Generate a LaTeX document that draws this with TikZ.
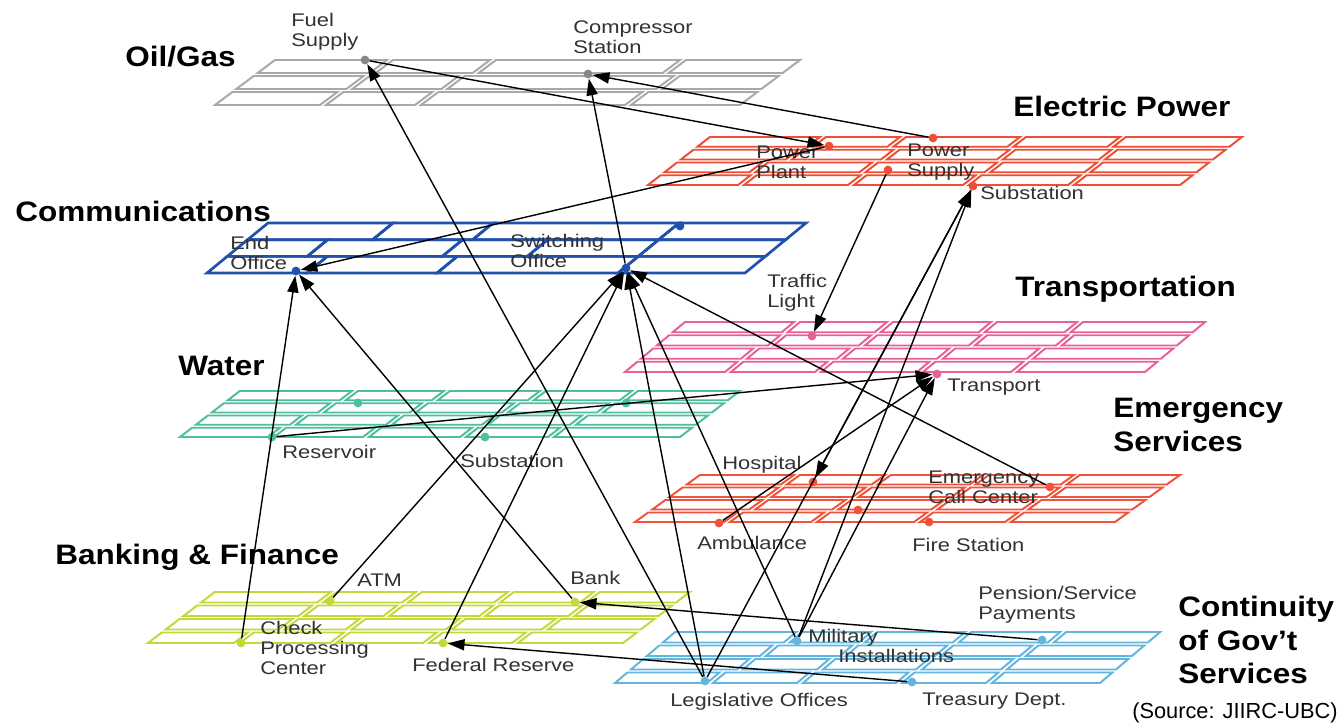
\documentclass[tikz,border=0pt]{standalone}
\usepackage{fontspec}
\setmainfont{Liberation Sans}
\newfontfamily\lblfont[FakeStretch=1.2]{Liberation Sans}
\newfontfamily\ttlfont[FakeStretch=1.12]{Liberation Sans}
\usetikzlibrary{arrows.meta}
\definecolor{gasgray}{RGB}{168,168,168}
\definecolor{pwrred}{RGB}{240,78,52}
\definecolor{comblue}{RGB}{32,82,172}
\definecolor{trpink}{RGB}{232,96,152}
\definecolor{wteal}{RGB}{78,190,158}
\definecolor{emred}{RGB}{240,82,58}
\definecolor{bkgreen}{RGB}{196,216,58}
\definecolor{govblue}{RGB}{98,182,222}
\definecolor{lbltext}{RGB}{50,50,50}
\tikzset{
  dot/.style={circle, fill=#1, inner sep=0pt, minimum size=0.22cm},
  lbl/.style={font=\lblfont\fontsize{13}{14.2}\selectfont, text=lbltext, inner sep=0pt, align=left, anchor=west},
  ttl/.style={font=\ttlfont\fontsize{20}{23.8}\selectfont\bfseries, inner sep=0pt, align=left, anchor=west},
  src/.style={font=\fontsize{15.5}{17}\selectfont, inner sep=0pt, anchor=east},
  link/.style={line width=1pt, -{Triangle[length=0.42cm,width=0.28cm]}},
}
\newcommand\gridrow[2]{%
  \foreach \c [remember=\c as \p (initially -\cg)] in {#2}
    \draw (\p+\cg,-#1*\rp) rectangle (\c,-#1*\rp-\rp+\gp);}
\begin{document}
\begin{tikzpicture}[x=0.025cm, y=-0.025cm]
\useasboundingbox (0,0) rectangle (1341,726);
\fill[white] (0,0) rectangle (1341,726);

\begin{scope}[shift={(215,105)}, xslant=1.333, gasgray, line width=1.4pt]
  \def\rp{16}\def\gp{3}\def\cg{6}
  \gridrow{0}{105,200,410,525}
  \gridrow{1}{110,205,420,525}
  \gridrow{2}{112,215,405,525}
\end{scope}
\begin{scope}[shift={(648,185)}, xslant=1.29, pwrred, line width=1.4pt]
  \def\rp{12.75}\def\gp{3}\def\cg{6}
  \gridrow{0}{90,200,315,420,532}
  \gridrow{1}{85,195,320,420,532}
  \gridrow{2}{105,200,316,418,532}
  \gridrow{3}{110,190,310,410,532}
\end{scope}
\begin{scope}[shift={(207,273)}, xslant=1.22, comblue, line width=1.9pt]
  \def\rp{16.67}\def\gp{0}\def\cg{0}
  \gridrow{0}{100,230,411,538}
  \gridrow{1}{80,215,300,411,538}
  \gridrow{2}{125,225,411,538}
\end{scope}
\begin{scope}[shift={(625,372)}, xslant=1.2, trpink, line width=1.4pt]
  \def\rp{13.25}\def\gp{3}\def\cg{6}
  \gridrow{0}{100,190,292,386,520}
  \gridrow{1}{100,196,296,386,520}
  \gridrow{2}{111,202,312,399,520}
  \gridrow{3}{109,202,306,392,520}
\end{scope}
\begin{scope}[shift={(180,437)}, xslant=1.3, wteal, line width=1.4pt]
  \def\rp{12.25}\def\gp{3}\def\cg{6}
  \gridrow{0}{88,183,280,368,500}
  \gridrow{1}{94,190,286,374,500}
  \gridrow{2}{106,198,290,385,500}
  \gridrow{3}{112,204,300,392,500}
\end{scope}
\begin{scope}[shift={(635,522)}, xslant=1.38, emred, line width=1.4pt]
  \def\rp{12.5}\def\gp{3}\def\cg{6}
  \gridrow{0}{89,176,279,370,480}
  \gridrow{1}{97,180,279,370,480}
  \gridrow{2}{96,183,282,377,480}
  \gridrow{3}{94,185,283,374,480}
\end{scope}
\begin{scope}[shift={(148,643)}, xslant=1.31, bkgreen, line width=1.4pt]
  \def\rp{13.5}\def\gp{3}\def\cg{6}
  \gridrow{0}{86,182,275,364,475}
  \gridrow{1}{113,180,280,376,475}
  \gridrow{2}{115,200,296,385,475}
  \gridrow{3}{116,201,293,379,475}
\end{scope}
\begin{scope}[shift={(615,683)}, xslant=1.18, govblue, line width=1.4pt]
  \def\rp{13.5}\def\gp{3}\def\cg{6}
  \gridrow{0}{92,182,281,371,485}
  \gridrow{1}{106,186,285,370,485}
  \gridrow{2}{113,193,288,373,485}
  \gridrow{3}{121,196,290,385,485}
\end{scope}

\node[ttl] (toil) at (125,57) {Oil/Gas};
\node[ttl] (tpower) at (1013,106) {Electric Power};
\node[ttl] (tcomm) at (15,211) {Communications};
\node[ttl] (ttrans) at (1015,289) {Transportation};
\node[ttl] (twater) at (178,366) {Water};
\node[ttl] (temerg) at (1113,425) {Emergency\\Services};
\node[ttl] (tbank) at (55,557) {Banking \& Finance};
\node[ttl] (tgov) at (1178,640) {Continuity\\of Gov’t\\Services};
\node[src] (source) at (1338,713) {(Source: JIIRC-UBC)};

\node[lbl] (lfuel) at (291,32) {Fuel\\Supply};
\node[lbl] (lcomp) at (573,37) {Compressor\\Station};
\node[lbl] (lplant) at (756,162) {Power\\Plant};
\node[lbl] (lsupply) at (907,162) {Power\\Supply};
\node[lbl] (lsubst) at (980,193) {Substation};
\node[lbl] (lend) at (230,253) {End\\Office};
\node[lbl] (lswitch) at (510,251) {Switching\\Office};
\node[lbl] (ltraffic) at (767,293) {Traffic\\Light};
\node[lbl] (ltransport) at (947,387) {Transport};
\node[lbl] (lreserv) at (282,452) {Reservoir};
\node[lbl] (lwsub) at (460,461) {Substation};
\node[lbl] (lhosp) at (722,465) {Hospital};
\node[lbl] (lcall) at (928,487) {Emergency\\Call Center};
\node[lbl] (lamb) at (697,543) {Ambulance};
\node[lbl] (lfire) at (912,545) {Fire Station};
\node[lbl] (latm) at (357,580) {ATM};
\node[lbl] (lbank) at (570,578) {Bank};
\node[lbl] (lcheck) at (260,648) {Check\\Processing\\Center};
\node[lbl] (lfed) at (412,665) {Federal Reserve};
\node[lbl] (lpension) at (978,605) {Pension/Service\\Payments};
\node[lbl] (lmil) at (808,646) {Military\\\hspace*{0.75cm}Installations};
\node[lbl] (llegis) at (670,702) {Legislative Offices};
\node[lbl] (ltreas) at (922,701) {Treasury Dept.};

\node[dot=gasgray!80!black] (fuel) at (365,60) {};
\node[dot=gasgray!80!black] (comp) at (588,74) {};
\node[dot=pwrred] (pplant) at (829,146) {};
\node[dot=pwrred] (psup1) at (933,138) {};
\node[dot=pwrred] (psup2) at (888,170) {};
\node[dot=pwrred] (subst) at (973,186) {};
\node[dot=comblue] (endoff) at (296,271) {};
\node[dot=comblue] (switch) at (626,268) {};
\node[dot=comblue] (cdot) at (680,226) {};
\node[dot=trpink] (traffic) at (812,336) {};
\node[dot=trpink] (transport) at (937,374) {};
\node[dot=wteal] (reserv) at (272,437) {};
\node[dot=wteal] (wsub) at (485,437) {};
\node[dot=wteal] (wdota) at (358,403) {};
\node[dot=wteal] (wdotb) at (626,403) {};
\node[dot=emred] (hosp) at (813,482) {};
\node[dot=emred] (callctr) at (1050,487) {};
\node[dot=emred] (edot) at (858,510) {};
\node[dot=emred] (amb) at (719,523) {};
\node[dot=emred] (fire) at (929,522) {};
\node[dot=bkgreen] (check) at (241,643) {};
\node[dot=bkgreen] (atm) at (330,601) {};
\node[dot=bkgreen] (fedres) at (443,643) {};
\node[dot=bkgreen] (bank) at (575,602) {};
\node[dot=govblue] (military) at (797,641) {};
\node[dot=govblue] (pension) at (1042,640) {};
\node[dot=govblue] (legis) at (705,681) {};
\node[dot=govblue] (treas) at (912,682) {};

\draw[link] (fuel) -- (pplant);
\draw[link] (psup1) -- (comp);
\draw[link] (pplant) -- (endoff);
\draw[link] (psup2) -- (traffic);
\draw[link] (check) -- (endoff);
\draw[link] (bank) -- (endoff);
\draw[link] (legis) -- (fuel);
\draw[link] (switch) -- (comp);
\draw[link] (atm) -- (switch);
\draw[link] (fedres) -- (switch);
\draw[link] (legis) -- (switch);
\draw[link] (military) -- (switch);
\draw[link] (callctr) -- (switch);
\draw[link] (reserv) -- (transport);
\draw[link] (amb) -- (transport);
\draw[link] (military) -- (transport);
\draw[link] (legis) -- (subst);
\draw[link] (military) -- (subst);
\draw[link] (subst) -- (hosp);
\draw[link] (pension) -- (bank);
\draw[link] (treas) -- (fedres);
\end{tikzpicture}
\end{document}
